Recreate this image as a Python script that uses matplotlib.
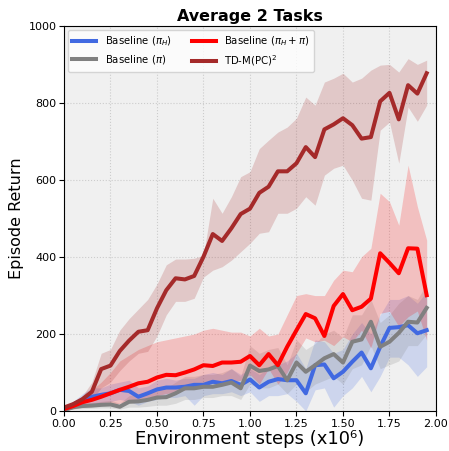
import numpy as np
import matplotlib
matplotlib.use('Agg')
from matplotlib import pyplot as plt

# steps in millions
steps = np.arange(40) * 0.05

# Baseline (pi_H)
blue_mean = [3, 17, 29, 37, 42, 46, 55, 52, 37, 46, 56, 61, 61, 63, 68, 68, 76, 72, 78, 68,
             82, 61, 76, 83, 80, 80, 46, 119, 121, 85, 102, 128, 152, 111, 167, 216, 218, 223, 202, 210]
blue_hi = [5, 25, 45, 60, 60, 70, 75, 80, 60, 65, 80, 85, 80, 85, 85, 95, 100, 95, 110, 95,
           110, 95, 110, 120, 130, 150, 110, 185, 180, 150, 160, 200, 230, 200, 250, 290, 290, 300, 280, 310]
blue_lo = [1, 8, 12, 15, 20, 25, 30, 25, 15, 25, 30, 35, 35, 40, 15, 40, 45, 45, 50, 40,
           50, 25, 40, 40, 45, 25, 0, 55, 60, 10, 40, 60, 90, 50, 90, 140, 140, 120, 90, 115]

# Baseline (pi)
gray_mean = [2, 10, 13, 14, 16, 17, 11, 24, 25, 29, 35, 36, 46, 59, 59, 63, 63, 68, 74, 59,
             118, 104, 108, 117, 80, 126, 102, 119, 137, 148, 126, 180, 186, 232, 167, 180, 203, 232, 230, 268]
gray_hi = [3, 15, 20, 22, 25, 28, 20, 40, 45, 50, 60, 60, 75, 90, 90, 95, 95, 100, 110, 90,
           170, 150, 160, 165, 120, 185, 160, 175, 200, 210, 190, 250, 250, 290, 230, 250, 280, 300, 290, 330]
gray_lo = [1, 5, 6, 7, 8, 8, 5, 10, 10, 12, 15, 15, 20, 30, 30, 35, 35, 40, 40, 30,
           70, 60, 60, 70, 45, 70, 50, 70, 80, 90, 70, 110, 120, 170, 110, 120, 130, 170, 170, 200]

# Baseline (pi_H + pi)
red_mean = [5, 13, 23, 29, 37, 46, 55, 63, 72, 76, 87, 94, 93, 100, 108, 119, 117, 126, 126, 128,
            143, 119, 148, 119, 167, 210, 252, 241, 195, 273, 304, 262, 271, 292, 410, 385, 358, 423, 422, 301]
red_hi = [8, 22, 40, 55, 75, 100, 130, 145, 160, 170, 180, 185, 190, 195, 200, 210, 215, 210, 205, 205,
          195, 215, 195, 200, 250, 300, 305, 300, 300, 340, 366, 362, 401, 423, 566, 544, 483, 639, 531, 444]
red_lo = [2, 5, 10, 12, 15, 15, 20, 25, 30, 35, 40, 45, 50, 55, 60, 65, 75, 70, 75, 80,
          95, 70, 110, 70, 100, 150, 190, 180, 184, 170, 193, 180, 210, 164, 254, 259, 220, 245, 260, 184]

# TD-M(PC)^2
tdm_mean = [9, 18, 31, 50, 109, 118, 156, 183, 206, 210, 267, 314, 345, 342, 351, 401, 460, 442, 475, 512,
            526, 567, 583, 623, 623, 644, 686, 660, 732, 745, 761, 743, 708, 712, 805, 827, 758, 847, 825, 878]
tdm_hi = [8, 20, 40, 75, 150, 160, 210, 240, 265, 290, 330, 380, 395, 395, 397, 405, 553, 514, 557, 609,
          622, 682, 704, 725, 738, 761, 816, 795, 855, 865, 878, 855, 865, 886, 899, 901, 881, 916, 901, 912]
tdm_lo = [3, 8, 18, 30, 60, 75, 105, 130, 150, 155, 195, 250, 285, 285, 293, 348, 366, 375, 392, 414,
          436, 462, 466, 514, 514, 527, 557, 535, 613, 631, 639, 600, 553, 548, 730, 751, 644, 790, 753, 795]

series = [
    (r'Baseline ($\pi_H$)', blue_mean, blue_lo, blue_hi, '#4169e1'),
    (r'Baseline ($\pi$)', gray_mean, gray_lo, gray_hi, '#808080'),
    (r'Baseline ($\pi_H + \pi$)', red_mean, red_lo, red_hi, '#ff0000'),
    (r'TD-M(PC)$^2$', tdm_mean, tdm_lo, tdm_hi, '#a52a2a'),
]

fig = plt.figure(figsize=(4.49, 4.51), dpi=100)
ax = fig.add_axes([0.1425, 0.0887, 0.8285, 0.853])
ax.set_facecolor('#f0f0f0')

for nome, media, baixo, alto, cor in series:
    ax.fill_between(steps, baixo, alto, color=cor, alpha=0.2, linewidth=0)
    ax.plot(steps, media, color=cor, linewidth=2.9, label=nome)

ax.set_xlim(0, 2.0)
ax.set_ylim(0, 1000)
ax.set_xticks(np.arange(0, 2.01, 0.25))
ax.set_yticks(np.arange(0, 1001, 200))
ax.tick_params(labelsize=8, pad=2)
ax.grid(True, linestyle=':', color='#cccccc', linewidth=0.8)
ax.set_axisbelow(True)

ax.set_title('Average 2 Tasks', fontsize=11.5, fontweight='bold', pad=4)
ax.set_xlabel('Environment steps (x10⁶)', fontsize=13, labelpad=1)
ax.set_ylabel('Episode Return', fontsize=11.5, labelpad=3)
ax.legend(loc='upper left', ncol=2, fontsize=7.3, framealpha=0.8, handlelength=2.4,
          columnspacing=2.0, borderaxespad=0.4)

plt.savefig('out.png', dpi=100)
